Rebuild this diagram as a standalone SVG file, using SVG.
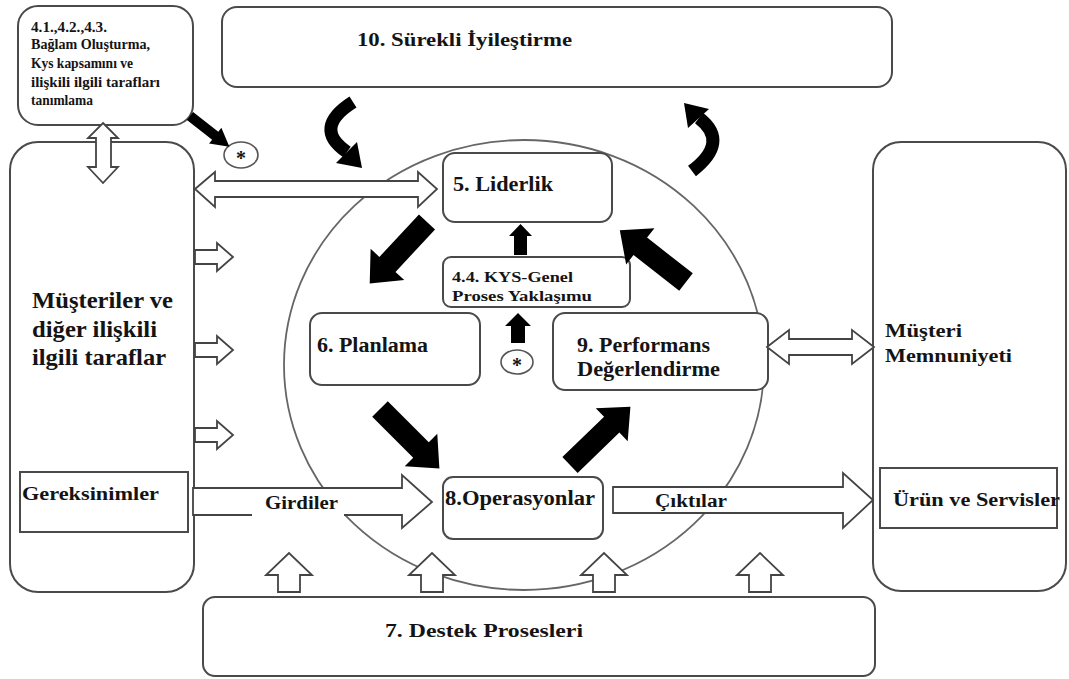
<svg xmlns="http://www.w3.org/2000/svg" xmlns:xlink="http://www.w3.org/1999/xlink" width="1069" height="679" viewBox="0 0 1069 679" font-family="'Liberation Serif', 'Times New Roman', serif">
  <style>
    .box { fill: #ffffff; stroke: #4a4a4a; stroke-width: 2; }
    .ring { fill: none; stroke: #666666; stroke-width: 1.8; }
    .hollow { fill: #ffffff; stroke: #444444; stroke-width: 1.8; stroke-linejoin: miter; }
    .solid { fill: #000000; }
    .bend { fill: none; stroke: #000000; stroke-width: 13; }
    .t { font-family: 'Liberation Serif', 'Times New Roman', serif; font-weight: bold; fill: #141414; }
    .star { fill: #ffffff; stroke: #555555; stroke-width: 1.6; }
  </style>
  <defs>
    <!-- solid block arrow pointing along +x, tail at origin -->
    <path id="bigArrow" d="M0,-11 H58 V-23 L84,0 L58,23 V11 H0 Z"/>
    <path id="smallArrow" d="M0,-5 H32 V-10 L50,0 L32,10 V5 H0 Z"/>
  </defs>

  <rect width="1069" height="679" fill="#ffffff"/>

  <!-- process cycle ring -->
  <ellipse class="ring" cx="524" cy="365" rx="240" ry="225"/>

  <!-- side panels and frame boxes -->
  <g id="context">
    <rect class="box" x="18" y="6" width="175" height="119" rx="20"/>
    <text class="t" font-size="14" x="31" y="32" textLength="76" lengthAdjust="spacingAndGlyphs">4.1.,4.2.,4.3.</text>
    <text class="t" font-size="14" x="31" y="49" textLength="119" lengthAdjust="spacingAndGlyphs">Bağlam Oluşturma,</text>
    <text class="t" font-size="14" x="31" y="68" textLength="102" lengthAdjust="spacingAndGlyphs">Kys kapsamını ve</text>
    <text class="t" font-size="14" x="31" y="87" textLength="129" lengthAdjust="spacingAndGlyphs">ilişkili ilgili tarafları</text>
    <text class="t" font-size="14" x="31" y="105" textLength="62" lengthAdjust="spacingAndGlyphs">tanımlama</text>
  </g>

  <g id="improvement">
    <rect class="box" x="222" y="7" width="670" height="80" rx="15"/>
    <text class="t" font-size="19" x="357" y="46" textLength="215" lengthAdjust="spacingAndGlyphs">10. Sürekli İyileştirme</text>
  </g>

  <g id="customers">
    <rect class="box" x="10" y="142" width="184" height="450" rx="28"/>
    <text class="t" font-size="23" x="32" y="308" textLength="141" lengthAdjust="spacingAndGlyphs">Müşteriler ve</text>
    <text class="t" font-size="23" x="32" y="337" textLength="125" lengthAdjust="spacingAndGlyphs">diğer ilişkili</text>
    <text class="t" font-size="23" x="32" y="365" textLength="134" lengthAdjust="spacingAndGlyphs">ilgili taraflar</text>
  </g>

  <g id="requirements">
    <rect x="20" y="472" width="168" height="60" fill="#ffffff" stroke="#4a4a4a" stroke-width="2"/>
    <text class="t" font-size="18" x="22" y="500" textLength="137" lengthAdjust="spacingAndGlyphs">Gereksinimler</text>
  </g>

  <g id="satisfaction">
    <rect class="box" x="873" y="142" width="193" height="449" rx="28"/>
    <text class="t" font-size="18" x="885" y="337" textLength="77" lengthAdjust="spacingAndGlyphs">Müşteri</text>
    <text class="t" font-size="18" x="885" y="362" textLength="127" lengthAdjust="spacingAndGlyphs">Memnuniyeti</text>
  </g>

  <g id="products">
    <rect x="880" y="468" width="177" height="60" fill="#ffffff" stroke="#4a4a4a" stroke-width="2"/>
    <text class="t" font-size="18" x="893" y="506" textLength="167" lengthAdjust="spacingAndGlyphs">Ürün ve Servisler</text>
  </g>

  <g id="support">
    <rect class="box" x="203" y="597" width="672" height="79" rx="12"/>
    <text class="t" font-size="19" x="385" y="637" textLength="198" lengthAdjust="spacingAndGlyphs">7. Destek Prosesleri</text>
  </g>

  <!-- inner process boxes -->
  <g id="leadership">
    <rect class="box" x="443" y="153" width="169" height="69" rx="12"/>
    <text class="t" font-size="20" x="453" y="191" textLength="100" lengthAdjust="spacingAndGlyphs">5. Liderlik</text>
  </g>

  <g id="process-approach">
    <rect class="box" x="443" y="257" width="187" height="50" rx="8"/>
    <text class="t" font-size="15" x="452" y="282" textLength="121" lengthAdjust="spacingAndGlyphs">4.4. KYS-Genel</text>
    <text class="t" font-size="15" x="452" y="301" textLength="140" lengthAdjust="spacingAndGlyphs">Proses Yaklaşımu</text>
  </g>

  <g id="planning">
    <rect class="box" x="310" y="313" width="170" height="72" rx="12"/>
    <text class="t" font-size="20" x="317" y="352" textLength="111" lengthAdjust="spacingAndGlyphs">6. Planlama</text>
  </g>

  <g id="performance">
    <rect class="box" x="553" y="313" width="215" height="77" rx="12"/>
    <text class="t" font-size="20" x="577" y="352" textLength="133" lengthAdjust="spacingAndGlyphs">9. Performans</text>
    <text class="t" font-size="20" x="577" y="376" textLength="143" lengthAdjust="spacingAndGlyphs">Değerlendirme</text>
  </g>

  <g id="operations">
    <rect class="box" x="443" y="477" width="160" height="62" rx="10"/>
    <text class="t" font-size="20" x="445" y="505" textLength="150" lengthAdjust="spacingAndGlyphs">8.Operasyonlar</text>
  </g>

  <!-- risk markers -->
  <g id="marker-top">
    <ellipse class="star" cx="241" cy="155" rx="17" ry="13"/>
    <text class="t" font-size="20" x="241" y="165" text-anchor="middle" fill="#222">*</text>
  </g>
  <g id="marker-mid">
    <ellipse class="star" cx="517" cy="362" rx="16" ry="12"/>
    <text class="t" font-size="20" x="517" y="372" text-anchor="middle" fill="#222">*</text>
  </g>

  <!-- connectors -->
  <g id="connectors">
    <!-- hollow two-way and one-way arrows -->
    <polygon class="hollow" points="195,189 215,172 215,181 418,181 418,172 437,189 418,207 418,197 215,197 215,207"/>
    <polygon class="hollow" points="767,347 789,330 789,339 852,339 852,330 874,347 852,364 852,355 789,355 789,364"/>
    <polygon class="hollow" points="103,123 118,138 111,138 111,167 118,167 103,183 88,167 96,167 96,138 88,138"/>

    <polygon class="hollow" points="195,250 217,250 217,243 233,257 217,271 217,264 195,264"/>
    <polygon class="hollow" points="195,343 217,343 217,336 233,350 217,364 217,357 195,357"/>
    <polygon class="hollow" points="195,428 217,428 217,421 233,435 217,449 217,442 195,442"/>

    <polygon class="hollow" points="278,592 278,575 266,575 289,553 312,575 300,575 300,592"/>
    <polygon class="hollow" points="421,592 421,575 409,575 432,553 455,575 443,575 443,592"/>
    <polygon class="hollow" points="593,592 593,575 581,575 604,553 627,575 615,575 615,592"/>
    <polygon class="hollow" points="749,592 749,575 737,575 760,553 783,575 771,575 771,592"/>

    <!-- inputs and outputs -->
    <polygon class="hollow" points="193,488 402,488 402,475 432,502 402,528 402,515 193,515"/>
    <rect x="252" y="506" width="92" height="12" fill="#ffffff"/>
    <text class="t" font-size="18" x="265" y="509" textLength="73" lengthAdjust="spacingAndGlyphs">Girdiler</text>

    <polygon class="hollow" points="613,487 843,487 843,473 873,500 843,528 843,513 613,513"/>
    <text class="t" font-size="18" x="655" y="507" textLength="72" lengthAdjust="spacingAndGlyphs">Çıktılar</text>

    <!-- PDCA cycle arrows -->
    <use href="#bigArrow" class="solid" transform="translate(427,222) rotate(133)"/>
    <use href="#bigArrow" class="solid" transform="translate(686,282) rotate(218)"/>
    <use href="#bigArrow" class="solid" transform="translate(380,409) rotate(45)"/>
    <use href="#bigArrow" class="solid" transform="translate(570,465) rotate(-44)"/>

    <!-- short vertical arrows into leadership -->
    <polygon class="solid" points="514,255 527,255 527,236 532,236 520.5,224 509,236 514,236"/>
    <polygon class="solid" points="511,343 525,343 525,326 531,326 518,313 505,326 511,326"/>

    <!-- context to risk marker -->
    <use href="#smallArrow" class="solid" transform="translate(190,116) rotate(38)"/>

    <!-- improvement loop arrows -->
    <path class="bend" d="M353,102 Q312,128 347,152"/>
    <polygon class="solid" points="362,168 336,163 357,142"/>
    <path class="bend" d="M692,171 Q730,142 699,118"/>
    <polygon class="solid" points="684,103 709,109 688,128"/>
  </g>
</svg>
